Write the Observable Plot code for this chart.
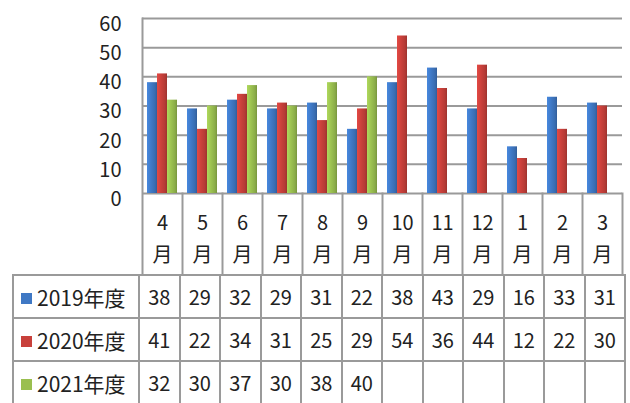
<!DOCTYPE html>
<html><head><meta charset="utf-8">
<script src="https://cdn.jsdelivr.net/npm/d3@7"></script>
<script src="https://cdn.jsdelivr.net/npm/@observablehq/plot@0.6"></script>
<style>
body{margin:0;background:#fff;font-family:"Noto Sans CJK JP","Noto Sans",sans-serif;}
#wrap{width:630px;height:403px;overflow:hidden;background:#fff;}
#wrap svg{display:block;}
table{border-collapse:collapse;table-layout:fixed;margin-left:12px;width:614px;}
td{border:2px solid #9a9a9a;height:43px;padding:0;text-align:center;font-size:20px;color:#222;box-sizing:border-box;}
td.lg{text-align:left;padding-left:7px;white-space:nowrap;font-size:21px;}
td.lg span{display:inline-block;width:11px;height:11px;margin-right:5px;vertical-align:2px;}
</style></head><body><div id="wrap"></div>
<script>
const months = ["4","5","6","7","8","9","10","11","12","1","2","3"];
const monthSuffix = "月";
const series = ["2019年度","2020年度","2021年度"];
const colors = ["#3f78c4","#c8403b","#9abf50"];
const v2019 = [38,29,32,29,31,22,38,43,29,16,33,31];
const v2020 = [41,22,34,31,25,29,54,36,44,12,22,30];
const v2021 = [32,30,37,30,38,40,null,null,null,null,null,null];
const yTicks = [0,10,20,30,40,50,60];

const valueRows = [v2019, v2020, v2021];
const bars = months.flatMap((m, i) => valueRows.map((arr, k) => ({month: m, series: series[k], k, value: arr[i]})))
  .filter(d => d.value != null);

const W = 630, H = 274, mT = 18, mB = 81, mL = 138, mR = 5;
const gridColor = "#9a9a9a";
const font = '"Noto Sans CJK JP","Noto Sans",sans-serif';

const chart = Plot.plot({
  width: W, height: H, marginTop: mT, marginBottom: mB, marginLeft: mL, marginRight: mR,
  style: {fontFamily: font, fontSize: "20px", color: "#222", background: "#fff", overflow: "visible"},
  fx: {domain: months, padding: 0, label: null, axis: null},
  x: {domain: series, paddingInner: 0, paddingOuter: 0.5, axis: null},
  y: {domain: [0, 60], label: null, axis: null},
  marks: [
    Plot.gridY(yTicks, {stroke: gridColor, strokeOpacity: 1, strokeWidth: 2}),
    ...series.map((s, k) => Plot.barY(bars.filter(d => d.k === k),
      {fx: "month", x: "series", y: "value", fill: `url(#barGrad${k})`})),
    Plot.frame({anchor: "left", facetAnchor: "left", insetBottom: -(mB - 1), stroke: gridColor, strokeWidth: 2}),
    Plot.frame({anchor: "right", insetTop: H - mT - mB, insetBottom: -(mB - 1), stroke: gridColor, strokeWidth: 2}),
    Plot.axisY(yTicks, {anchor: "left", tickSize: 0, tickPadding: 21, dy: 6, fontSize: 20, label: null}),
    Plot.axisFx({anchor: "bottom", tickSize: 0, tickPadding: 13, fontSize: 20, lineHeight: 1.62,
      tickFormat: d => d + "\n" + monthSuffix, label: null})
  ]
});

// gradients giving the bars a rounded 3D look
const defs = d3.select(chart).insert("defs", ":first-child");
colors.forEach((c, k) => {
  const g = defs.append("linearGradient").attr("id", `barGrad${k}`).attr("x1", 0).attr("x2", 1).attr("y1", 0).attr("y2", 0);
  const base = d3.color(c);
  [[0, base.brighter(0.35)], [0.45, base], [0.8, base.darker(0.3)], [1, base.darker(0.7)]].forEach(([o, col]) =>
    g.append("stop").attr("offset", o).attr("stop-color", col.formatHex()));
});

const wrap = document.getElementById("wrap");
wrap.appendChild(chart);

const table = document.createElement("table");
const colgroup = document.createElement("colgroup");
const c0 = document.createElement("col"); c0.style.width = "126px"; colgroup.appendChild(c0);
months.forEach(() => { const c = document.createElement("col"); colgroup.appendChild(c); });
table.appendChild(colgroup);
series.forEach((s, k) => {
  const tr = document.createElement("tr");
  const lg = document.createElement("td"); lg.className = "lg";
  const sw = document.createElement("span"); sw.style.background = colors[k];
  lg.appendChild(sw); lg.appendChild(document.createTextNode(s));
  tr.appendChild(lg);
  valueRows[k].forEach(v => {
    const td = document.createElement("td");
    td.textContent = v == null ? "" : String(v);
    tr.appendChild(td);
  });
  table.appendChild(tr);
});
wrap.appendChild(table);
</script></body></html>
